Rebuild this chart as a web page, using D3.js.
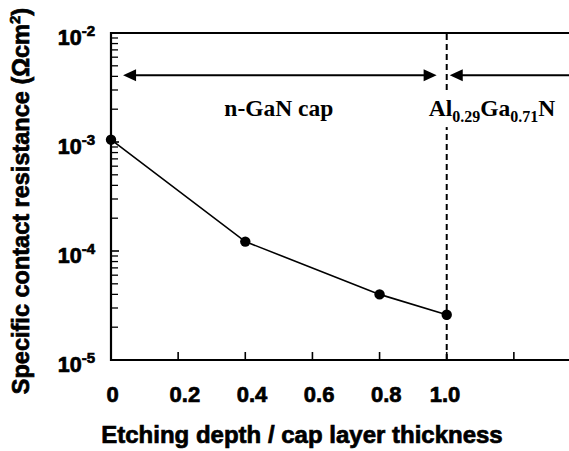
<!DOCTYPE html>
<html><head><meta charset="utf-8">
<script src="https://cdn.jsdelivr.net/npm/d3@7"></script>
<style>
body{margin:0;background:#fff;}
svg{display:block;}
</style></head>
<body>
<svg id="c" width="569" height="451"></svg>
<script>
// Data
const depth = [0, 0.4, 0.8, 1.0];
const resistance = [1.05e-3, 1.22e-4, 4.0e-5, 2.6e-5];
const xTickValues = [0.2, 0.4, 0.6, 0.8, 1.0, 1.2];
const xTickLabels = ["0", "0.2", "0.4", "0.6", "0.8", "1.0"];
const xTickLabelPos = [0.005, 0.22, 0.42, 0.62, 0.82, 0.995];
const yDecades = [-5, -4, -3, -2];
const boundaryX = 1.0;
const arrowY = 4.1e-3;
const capArrow = [0.036, 0.97];
const barrierArrow = [1.009, 1.45];
const labelY = 1.73e-3;

const svg = d3.select("#c");
const sans = "'Liberation Sans', Arial, Helvetica, sans-serif";
const serif = "'Liberation Serif', 'Times New Roman', serif";

const x = d3.scaleLinear().domain([0, 1.4]).range([111, 581]);
const y = d3.scaleLog().domain([1e-5, 1e-2]).range([360, 33]);

const yMinor = [];
yDecades.slice(0, 3).forEach(d => { for (let k = 2; k <= 9; k++) yMinor.push(k * Math.pow(10, d)); });

const g = svg.append("g");

// frame
g.append("line").attr("x1", x(0)).attr("x2", x(1.4)).attr("y1", y(1e-2)).attr("y2", y(1e-2)).attr("stroke", "#000").attr("stroke-width", 2);
g.append("line").attr("x1", x(0)).attr("x2", x(1.4)).attr("y1", y(1e-5)).attr("y2", y(1e-5)).attr("stroke", "#000").attr("stroke-width", 2.2);
g.append("line").attr("x1", x(0)).attr("x2", x(0)).attr("y1", y(1e-2) - 1).attr("y2", y(1e-5) + 1).attr("stroke", "#000").attr("stroke-width", 2.2);

// x ticks (inward)
g.selectAll(".xt").data(xTickValues).enter().append("line")
  .attr("x1", d => x(d)).attr("x2", d => x(d))
  .attr("y1", y(1e-5)).attr("y2", y(1e-5) - 8)
  .attr("stroke", "#000").attr("stroke-width", 1.6);

// y ticks
g.selectAll(".ytM").data(yDecades).enter().append("line")
  .attr("x1", x(0)).attr("x2", x(0) + 8)
  .attr("y1", d => y(Math.pow(10, d))).attr("y2", d => y(Math.pow(10, d)))
  .attr("stroke", "#000").attr("stroke-width", 1.6);
g.selectAll(".ytm").data(yMinor).enter().append("line")
  .attr("x1", x(0)).attr("x2", x(0) + 7)
  .attr("y1", d => y(d)).attr("y2", d => y(d))
  .attr("stroke", "#000").attr("stroke-width", 1.3);

function heavy(sel) {
  return sel.attr("font-family", sans).attr("font-weight", "bold")
    .attr("stroke", "#000").attr("stroke-width", 0.7).attr("fill", "#000");
}

// x tick labels
heavy(g.selectAll(".xl").data(xTickLabels).enter().append("text"))
  .attr("x", (d, i) => x(xTickLabelPos[i])).attr("y", 402)
  .attr("text-anchor", "middle").attr("font-size", 22).text(d => d);

// y tick labels
const yl = heavy(g.selectAll(".yl").data(yDecades).enter().append("text"))
  .attr("x", 95).attr("y", d => y(Math.pow(10, d)) + 12)
  .attr("text-anchor", "end").attr("font-size", 21.5);
yl.append("tspan").text("10");
yl.append("tspan").attr("dy", -9).attr("font-size", 15).text(d => String(d));

// axis titles
heavy(svg.append("text")).attr("x", 302).attr("y", 443).attr("text-anchor", "middle")
  .attr("font-size", 24).text("Etching depth / cap layer thickness");
const yt = heavy(svg.append("text")).attr("transform", "translate(29,201) rotate(-90)").attr("text-anchor", "middle")
  .attr("font-size", 23.5);
yt.append("tspan").text("Specific contact resistance (Ωcm");
yt.append("tspan").attr("dy", -9).attr("font-size", 15).text("2");
yt.append("tspan").attr("dy", 9).text(")");

// boundary dashed line
g.append("line").attr("x1", x(boundaryX)).attr("x2", x(boundaryX))
  .attr("y1", y(1e-2) + 1).attr("y2", y(1e-5))
  .attr("stroke", "#000").attr("stroke-width", 2).attr("stroke-dasharray", "6,4");

// arrows
function arrowHead(tipX, tipY, dir) {
  const L = 13, H = 6;
  g.append("path")
    .attr("d", `M${tipX},${tipY} L${tipX - dir * L},${tipY - H} L${tipX - dir * L},${tipY + H} Z`)
    .attr("fill", "#000");
}
const ay = y(arrowY);
g.append("line").attr("x1", x(capArrow[0]) + 5).attr("x2", x(capArrow[1]) - 5).attr("y1", ay).attr("y2", ay)
  .attr("stroke", "#000").attr("stroke-width", 2);
arrowHead(x(capArrow[0]), ay, -1);
arrowHead(x(capArrow[1]), ay, 1);
g.append("line").attr("x1", x(barrierArrow[0]) + 5).attr("x2", x(barrierArrow[1])).attr("y1", ay).attr("y2", ay)
  .attr("stroke", "#000").attr("stroke-width", 2);
arrowHead(x(barrierArrow[0]), ay, -1);

// region labels
svg.append("text").attr("x", x(0.5)).attr("y", y(labelY)).attr("text-anchor", "middle")
  .attr("font-family", serif).attr("font-weight", "bold").attr("font-size", 23.5).text("n-GaN cap");
const alBg = svg.append("rect").attr("fill", "#fff");
const al = svg.append("text").attr("x", x(1.135)).attr("y", y(labelY)).attr("text-anchor", "middle")
  .attr("font-family", serif).attr("font-weight", "bold").attr("font-size", 23.5);
al.append("tspan").text("Al");
al.append("tspan").attr("dy", 6).attr("font-size", 16).text("0.29");
al.append("tspan").attr("dy", -6).text("Ga");
al.append("tspan").attr("dy", 6).attr("font-size", 16).text("0.71");
al.append("tspan").attr("dy", -6).text("N");
const bb = al.node().getBBox();
alBg.attr("x", bb.x).attr("y", bb.y - 2).attr("width", bb.width).attr("height", bb.height + 4);

// data line and points
const line = d3.line().x((d, i) => x(depth[i])).y(d => y(d));
g.append("path").datum(resistance).attr("d", line).attr("fill", "none")
  .attr("stroke", "#000").attr("stroke-width", 1.6);
g.selectAll(".pt").data(resistance).enter().append("circle")
  .attr("cx", (d, i) => x(depth[i])).attr("cy", d => y(d)).attr("r", 5.2).attr("fill", "#000");
</script>
</body></html>
